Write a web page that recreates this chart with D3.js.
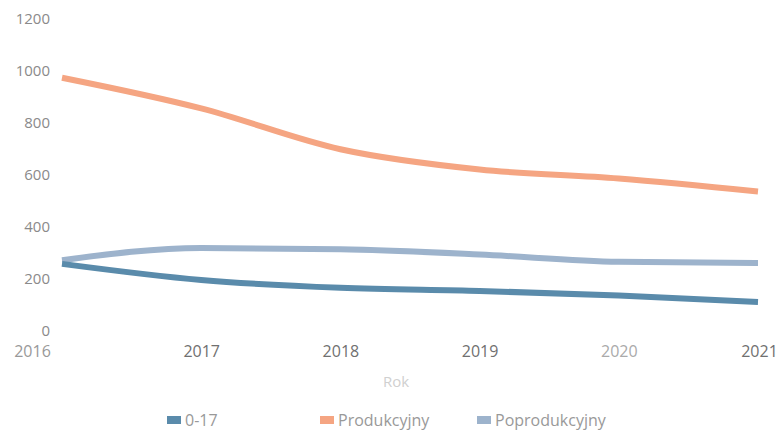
<!DOCTYPE html>
<html><head><meta charset="utf-8">
<script src="https://cdn.jsdelivr.net/npm/d3@7"></script>
<style>
body{margin:0;background:#fff;}
text{font-family:"Open Sans",sans-serif;}
</style></head>
<body><svg id="chart" width="779" height="430"></svg>
<script>
const years = [2016, 2017, 2018, 2019, 2020, 2021];
const seriesNames = ["0-17", "Produkcyjny", "Poprodukcyjny"];
const v017 = [262, 200, 170, 158, 140, 115];
const vProd = [978, 860, 703, 625, 590, 540];
const vPoprod = [276, 323, 318, 298, 270, 265];
const yTicks = [0, 200, 400, 600, 800, 1000, 1200];
const colors = ["#5a8bab", "#f5a582", "#9db3cc"];
const xTitle = "Rok";

const svg = d3.select("#chart");
const x = d3.scalePoint().domain(years).range([62, 758]);
const y = d3.scaleLinear().domain([0, 1200]).range([332, 20]);

// y axis
const ya = svg.append("g").attr("transform","translate(50,0)")
  .call(d3.axisLeft(y).tickValues(yTicks).tickFormat(d3.format("d")).tickSize(0).tickPadding(0));
ya.select(".domain").remove();
ya.selectAll("text").attr("fill","#8a8a8a").style("font-size","15px").attr("dy","0.25em");

// x axis
const xa = svg.append("g").attr("transform","translate(0,342)")
  .call(d3.axisBottom(x).tickFormat(d3.format("d")).tickSize(0).tickPadding(0));
xa.select(".domain").remove();
xa.selectAll("text").attr("fill","#707070").style("font-size","16px").attr("dy","0.95em");
xa.selectAll("text").filter(d => d === 2016).attr("dx","-30px").attr("fill","#999");
xa.selectAll("text").filter(d => d === 2020).attr("fill","#aaa");
xa.selectAll("text").filter(d => d === 2021).attr("dx","1px");

svg.append("text").attr("x",396).attr("y",387).attr("text-anchor","middle")
  .attr("fill","#d0d0d0").style("font-size","15px").text(xTitle);

const data = [v017, vProd, vPoprod];
const line = d3.line().x((d,i)=>x(years[i])).y(d=>y(d)).curve(d3.curveMonotoneX);
const order = [1, 2, 0];
order.forEach(k => {
  svg.append("path").datum(data[k]).attr("d", line)
    .attr("fill","none").attr("stroke", colors[k]).attr("stroke-width", 6)
    .attr("stroke-linejoin","round");
});

// legend
const legX = [167, 320, 477];
seriesNames.forEach((n,i) => {
  const g = svg.append("g").attr("transform",`translate(${legX[i]},420)`);
  g.append("rect").attr("x",0).attr("y",-4).attr("width",14).attr("height",8).attr("fill",colors[i]);
  g.append("text").attr("x",18).attr("y",0).attr("dy","0.35em")
    .attr("fill","#999").style("font-size","16px").text(n);
});
</script></body></html>
